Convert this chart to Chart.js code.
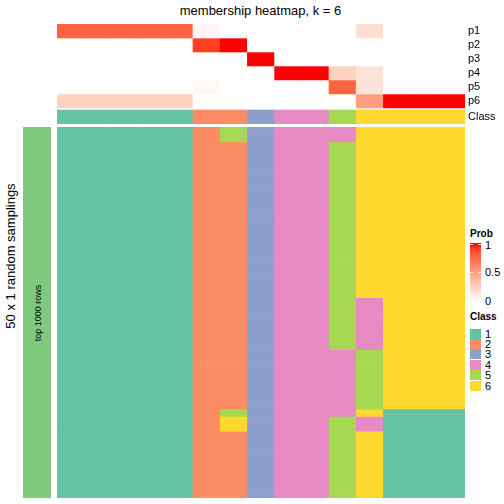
<!DOCTYPE html>
<html>
<head>
<meta charset="utf-8">
<script src="https://cdn.jsdelivr.net/npm/chart.js@4/dist/chart.umd.min.js"></script>
<style>
    body { margin: 0; background: #fff; font-family: "Liberation Sans", Arial, sans-serif; }
    #wrap { position: relative; width: 504px; height: 504px; overflow: hidden; }
    canvas { position: absolute; }
    .txt { position: absolute; white-space: nowrap; color: #000; }
</style>
</head>
<body>
<div id="wrap">
    <div class="txt" id="title" style="left:0;width:521px;top:3px;text-align:center;font-size:13px;">membership heatmap, k = 6</div>
    <canvas id="topChart" width="448" height="100" style="left:57px;top:24px;"></canvas>
    <canvas id="mainChart" width="408" height="371" style="left:57px;top:127px;"></canvas>
    <div id="rowAnno" style="position:absolute;left:23px;top:127px;width:28px;height:371px;background:#7FC97F;"></div>
    <div class="txt" style="left:38px;top:313px;font-size:9px;transform:translate(-50%,-50%) rotate(-90deg);">top 1000 rows</div>
    <div class="txt" style="left:10px;top:256px;font-size:13px;transform:translate(-50%,-50%) rotate(-90deg);">50 x 1 random samplings</div>
    <div id="legend"></div>
</div>

<script>
    // columns of the heatmap (15 samples)
    const sampleNames = ['s1', 's2', 's3', 's4', 's5', 's6', 's7', 's8', 's9', 's10', 's11', 's12', 's13', 's14', 's15'];
    const probRows = ['p1', 'p2', 'p3', 'p4', 'p5', 'p6'];

    // membership probabilities per sample
    const p1 = [0.76, 0.76, 0.76, 0.76, 0.76, 0.04, 0, 0, 0, 0, 0, 0.17, 0, 0, 0];
    const p2 = [0, 0, 0, 0, 0, 0.9, 1, 0, 0, 0, 0, 0, 0, 0, 0];
    const p3 = [0, 0, 0, 0, 0, 0, 0, 1, 0, 0, 0, 0, 0, 0, 0];
    const p4 = [0, 0, 0, 0, 0, 0, 0, 0, 1, 1, 0.24, 0.15, 0, 0, 0];
    const p5 = [0, 0, 0, 0, 0, 0.04, 0, 0, 0, 0, 0.76, 0.15, 0, 0, 0];
    const p6 = [0.24, 0.24, 0.24, 0.24, 0.24, 0, 0, 0, 0, 0, 0, 0.5, 1, 1, 1];
    const sampleClass = [1, 1, 1, 1, 1, 2, 2, 3, 4, 4, 5, 6, 6, 6, 6];

    // 50 random samplings: class of each sample (one digit per column)
    const samplings = [
        '111112534446666', '111112534446666',
        '111112234456666', '111112234456666', '111112234456666', '111112234456666',
        '111112234456666', '111112234456666', '111112234456666', '111112234456666',
        '111112234456666', '111112234456666', '111112234456666', '111112234456666',
        '111112234456666', '111112234456666', '111112234456666', '111112234456666',
        '111112234456666', '111112234456666', '111112234456666', '111112234456666',
        '111112234456666',
        '111112234454666', '111112234454666', '111112234454666', '111112234454666',
        '111112234454666', '111112234454666', '111112234454666',
        '111112234445666', '111112234445666', '111112234445666', '111112234445666',
        '111112234445666', '111112234445666', '111112234445666', '111112234445666',
        '111112534446111',
        '111112634454111', '111112634454111',
        '111112234456111', '111112234456111', '111112234456111', '111112234456111',
        '111112234456111', '111112234456111', '111112234456111', '111112234456111',
        '111112234456111'
    ];

    const classNames = ['1', '2', '3', '4', '5', '6'];
    const classColors = ['#66C2A5', '#FC8D62', '#8DA0CB', '#E78AC3', '#A6D854', '#FFD92F'];
    const probTicks = [1, 0.5, 0];

    // white -> red in LAB space, like colorRamp2
    function toLin(c) { c /= 255; return c > 0.04045 ? Math.pow((c + 0.055) / 1.055, 2.4) : c / 12.92; }
    function fromLin(c) {
        c = Math.min(1, Math.max(0, c));
        return Math.round(255 * (c > 0.0031308 ? 1.055 * Math.pow(c, 1 / 2.4) - 0.055 : 12.92 * c));
    }
    function rgbToLab(r, g, b) {
        r = toLin(r); g = toLin(g); b = toLin(b);
        let x = (0.4124 * r + 0.3576 * g + 0.1805 * b) / 0.95047;
        let y = 0.2126 * r + 0.7152 * g + 0.0722 * b;
        let z = (0.0193 * r + 0.1192 * g + 0.9505 * b) / 1.08883;
        const f = t => t > 0.008856 ? Math.cbrt(t) : 7.787 * t + 16 / 116;
        x = f(x); y = f(y); z = f(z);
        return [116 * y - 16, 500 * (x - y), 200 * (y - z)];
    }
    function labToRgb(L, a, b) {
        const fy = (L + 16) / 116, fx = fy + a / 500, fz = fy - b / 200;
        const inv = t => t > 0.206893 ? t * t * t : (t - 16 / 116) / 7.787;
        const x = 0.95047 * inv(fx), y = inv(fy), z = 1.08883 * inv(fz);
        const r = 3.2406 * x - 1.5372 * y - 0.4986 * z;
        const g = -0.9689 * x + 1.8758 * y + 0.0415 * z;
        const bb = 0.0557 * x - 0.2040 * y + 1.0570 * z;
        return 'rgb(' + fromLin(r) + ',' + fromLin(g) + ',' + fromLin(bb) + ')';
    }
    const labWhite = rgbToLab(255, 255, 255);
    const labRed = rgbToLab(255, 0, 0);
    function probColor(v) {
        return labToRgb(
            labWhite[0] + (labRed[0] - labWhite[0]) * v,
            labWhite[1] + (labRed[1] - labWhite[1]) * v,
            labWhite[2] + (labRed[2] - labWhite[2]) * v
        );
    }

    // top annotation: p1..p6 + Class
    const probData = [p1, p2, p3, p4, p5, p6];
    const topDatasets = probData.map((vals, i) => ({
        label: probRows[i],
        data: vals.map(() => [i, i + 1]),
        backgroundColor: vals.map(probColor)
    }));
    topDatasets.push({
        label: 'Class',
        data: sampleClass.map(() => [6.15, 7.15]),
        backgroundColor: sampleClass.map(c => classColors[c - 1])
    });
    const topLabels = probRows.concat(['Class']);
    const topTickPos = [0.5, 1.5, 2.5, 3.5, 4.5, 5.5, 6.65];

    new Chart(document.getElementById('topChart'), {
        type: 'bar',
        data: { labels: sampleNames, datasets: topDatasets },
        options: {
            responsive: false,
            animation: false,
            layout: { padding: 0 },
            datasets: { bar: { barPercentage: 1, categoryPercentage: 1, borderWidth: 0 } },
            plugins: { legend: { display: false }, tooltip: { enabled: false } },
            scales: {
                x: { stacked: true, display: false },
                y: {
                    stacked: false,
                    position: 'right',
                    reverse: true,
                    min: 0,
                    max: 7.15,
                    grid: { display: false, drawTicks: false },
                    border: { display: false },
                    afterBuildTicks: axis => { axis.ticks = topTickPos.map(v => ({ value: v })); },
                    afterFit: axis => {
                        axis.width = 40;
                        axis.paddingTop = 0;
                        axis.paddingBottom = 0;
                    },
                    ticks: {
                        autoSkip: false,
                        padding: 3,
                        color: '#000',
                        font: { family: '"Liberation Sans", Arial, sans-serif', size: 11 },
                        callback: (value, index) => topLabels[index]
                    }
                }
            }
        }
    });

    // main heatmap: one dataset per sampling row
    const mainDatasets = samplings.map((row, r) => ({
        label: 'sampling ' + (r + 1),
        data: sampleNames.map(() => [r, r + 1]),
        backgroundColor: row.split('').map(c => classColors[+c - 1])
    }));

    new Chart(document.getElementById('mainChart'), {
        type: 'bar',
        data: { labels: sampleNames, datasets: mainDatasets },
        options: {
            responsive: false,
            animation: false,
            layout: { padding: 0 },
            datasets: { bar: { barPercentage: 1, categoryPercentage: 1, borderWidth: 0 } },
            plugins: { legend: { display: false }, tooltip: { enabled: false } },
            scales: {
                x: { stacked: true, display: false },
                y: { stacked: false, reverse: true, min: 0, max: samplings.length, display: false }
            }
        }
    });

    // legends
    let html = '';
    html += '<div class="txt" style="left:470px;top:228px;font-size:10px;font-weight:bold;">Prob</div>';
    let stops = [];
    for (let i = 0; i <= 10; i++) {
        stops.push(probColor(1 - i / 10) + ' ' + (i * 10) + '%');
    }
    html += '<div style="position:absolute;left:470px;top:243px;width:11px;height:58px;background:linear-gradient(to bottom,' + stops.join(',') + ');"></div>';
    probTicks.forEach(t => {
        let y = 243 + (1 - t) * 58;
        if (t > 0) {
            html += '<div style="position:absolute;left:470px;top:' + (y + (t === 1 ? 1 : 0)) + 'px;width:3px;height:1px;background:rgba(255,255,255,0.8);"></div>';
            html += '<div style="position:absolute;left:478px;top:' + (y + (t === 1 ? 1 : 0)) + 'px;width:3px;height:1px;background:rgba(255,255,255,0.8);"></div>';
        }
        html += '<div class="txt" style="left:485px;top:' + (y - 6 + (t === 1 ? 2 : 0)) + 'px;font-size:11px;">' + t + '</div>';
    });
    html += '<div class="txt" style="left:470px;top:311px;font-size:10px;font-weight:bold;">Class</div>';
    classNames.forEach((name, i) => {
        let y = 328.5 + i * 10.4;
        html += '<div style="position:absolute;left:470px;top:' + y + 'px;width:11px;height:10px;background:' + classColors[i] + ';"></div>';
        html += '<div class="txt" style="left:485px;top:' + (y - 1) + 'px;font-size:11px;">' + name + '</div>';
    });
    document.getElementById('legend').innerHTML = html;
</script>
</body>
</html>
